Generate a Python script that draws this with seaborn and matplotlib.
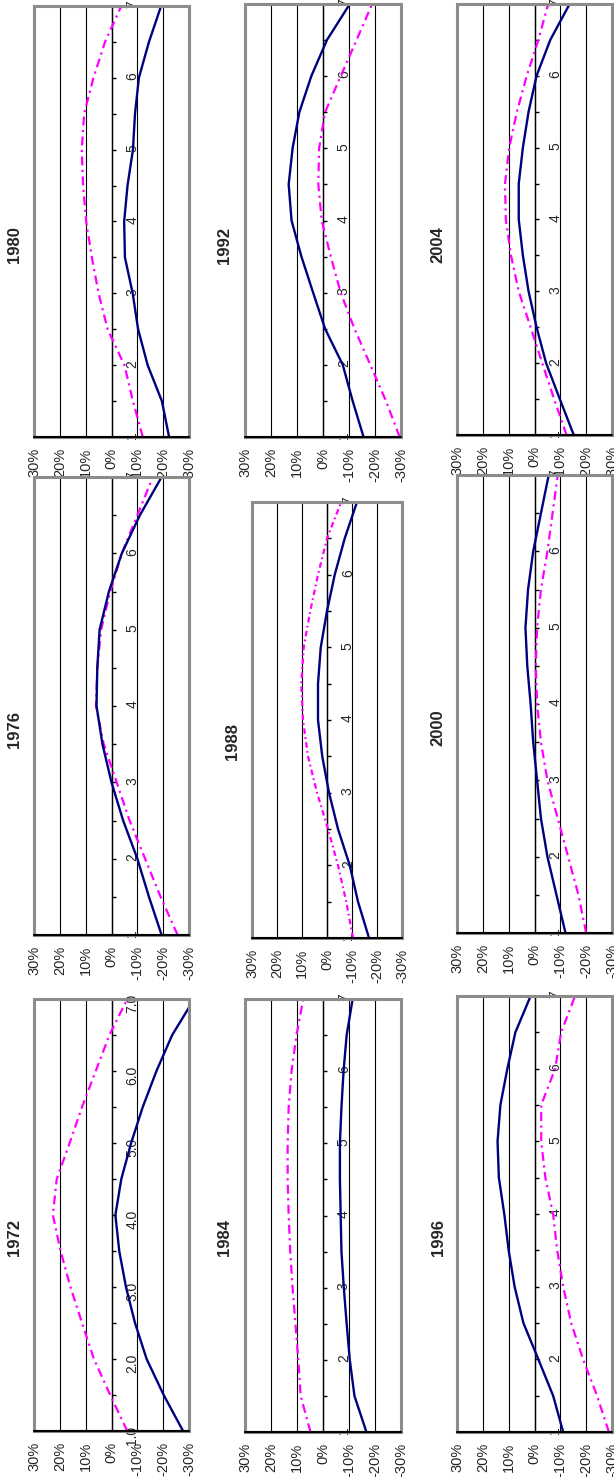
import matplotlib
matplotlib.use("Agg")
import matplotlib.pyplot as plt
import matplotlib.ticker as mticker
from matplotlib.patches import Rectangle
import pandas as pd
import seaborn as sns

# horizon (1..7) and the percent scale
t_points = [1.0, 1.5, 2.0, 2.5, 3.0, 3.5, 4.0, 4.5, 5.0, 5.5, 6.0, 6.5, 7.0]
t_labels = [1, 2, 3, 4, 5, 6, 7]
pct_ticks = [30, 20, 10, 0, -10, -20, -30]

# solid navy series / dash-dot magenta series, per year (percent)
solid_1972 = [-27.7, -20.2, -13.6, -9.1, -5.6, -3.0, -1.5, -3.8, -7.6, -12.1, -17.4, -23.5, -32.0]
dashed_1972 = [-6.1, 0.5, 6.8, 11.4, 15.9, 19.7, 22.7, 21.2, 16.2, 11.4, 6.1, 0.8, -6.1]

solid_1976 = [-19.4, -14.5, -10.0, -4.5, 0.0, 3.5, 5.8, 5.5, 4.6, 1.0, -4.0, -11.0, -19.4]
dashed_1976 = [-25.6, -19.0, -13.0, -7.0, -2.0, 3.0, 6.0, 5.5, 4.0, 0.5, -4.0, -10.0, -16.0]

solid_1980 = [-22.3, -19.5, -14.0, -10.3, -8.2, -5.2, -4.9, -6.2, -8.3, -9.1, -10.6, -14.5, -19.2]
dashed_1980 = [-12.1, -8.3, -5.0, 1.5, 5.0, 7.6, 9.8, 11.0, 11.5, 10.6, 7.0, 2.5, -3.8]

solid_1984 = [-16.7, -12.1, -10.3, -9.1, -8.0, -7.1, -6.8, -6.5, -6.5, -7.1, -7.9, -9.1, -11.4]
dashed_1984 = [4.8, 8.6, 9.5, 10.6, 11.7, 12.6, 13.2, 13.6, 13.6, 13.2, 12.1, 10.2, 7.6]

solid_1988 = [-16.8, -12.4, -9.1, -4.4, -0.8, 1.9, 3.6, 3.6, 2.5, 0.0, -3.1, -7.1, -12.0]
dashed_1988 = [-10.4, -7.7, -4.4, -0.4, 4.0, 7.6, 9.6, 10.3, 9.3, 6.7, 3.6, 0.0, -5.7]

solid_1992 = [-15.6, -11.4, -7.6, -0.8, 3.8, 8.3, 12.1, 13.2, 11.7, 9.1, 4.5, -1.5, -10.3]
dashed_1992 = [-29.5, -24.2, -18.2, -12.1, -6.8, -3.0, 0.5, 1.8, 1.5, -0.8, -6.8, -12.9, -18.9]

solid_1996 = [-11.1, -7.2, -1.5, 4.3, 7.7, 10.0, 11.7, 13.8, 14.3, 13.2, 10.5, 7.4, 1.5]
dashed_1996 = [-28.8, -24.2, -18.8, -14.2, -11.1, -8.8, -7.2, -4.2, -2.6, -2.6, -8.0, -10.3, -15.7]

solid_2000 = [-12.0, -8.5, -5.0, -2.5, -1.0, 0.5, 1.5, 2.8, 3.5, 2.5, 0.5, -2.5, -5.5]
dashed_2000 = [-20.0, -17.0, -13.0, -9.0, -5.0, -2.5, -1.0, -0.5, -1.0, -2.5, -5.0, -7.0, -9.0]

solid_2004 = [-15.2, -9.8, -4.5, -0.8, 2.3, 4.5, 6.1, 6.1, 4.5, 2.3, -0.8, -6.1, -13.6]
dashed_2004 = [-12.4, -7.6, -3.0, 1.5, 6.1, 9.1, 11.1, 11.4, 9.8, 6.8, 3.0, -1.5, -5.3]

W, H = 614, 1477

sns.set_style("white")
plt.rcParams["font.family"] = ["Liberation Sans", "DejaVu Sans"]

fig = plt.figure(figsize=(W / 100, H / 100), dpi=100)
fig.patch.set_facecolor("white")


def draw_panel(year, solid, dashed, box, title_pos, tfmt="%d", dash=(4, 2, 1, 2)):
    left, top, right, bottom = box
    ax = fig.add_axes([left / W, 1 - bottom / H, (right - left) / W, (bottom - top) / H])

    df = pd.DataFrame({"t": t_points, "solid": solid, "dashed": dashed})
    sns.lineplot(data=df, x="dashed", y="t", orient="y", estimator=None, sort=False,
                 color="#ff00ff", linewidth=1.6, ax=ax, zorder=3)
    ax.lines[-1].set_linestyle((0, dash))
    sns.lineplot(data=df, x="solid", y="t", orient="y", estimator=None, sort=False,
                 color="#000080", linewidth=1.7, ax=ax, zorder=4)

    ax.set_xlim(30, -30)
    ax.set_ylim(1, 7)
    ax.set_xlabel("")
    ax.set_ylabel("")
    ax.set_facecolor("white")

    # percent axis along the bottom
    ax.set_xticks(pct_ticks)
    ax.xaxis.set_major_formatter(mticker.FuncFormatter(lambda v, _: f"{v:.0f}%"))
    ax.grid(axis="x", color="black", linewidth=0.8, zorder=1)
    ax.tick_params(axis="x", direction="out", length=3, width=1, color="black",
                   labelsize=10.5, labelrotation=90, pad=4.5)

    # horizon axis sits on the 0% line
    ax.yaxis.tick_right()
    ax.set_yticks(t_labels)
    ax.set_yticks(t_points, minor=True)
    ax.yaxis.set_major_formatter(mticker.FormatStrFormatter(tfmt))
    ax.tick_params(axis="y", which="both", direction="out", length=3, width=1,
                   color="black", labelsize=10, labelrotation=90, pad=7)
    plt.setp(ax.get_yticklabels(), va="center", ha="left")

    for side in ["left", "top", "bottom"]:
        ax.spines[side].set_visible(False)
    ax.spines["right"].set_position(("data", 0))
    ax.spines["right"].set_color("black")
    ax.spines["right"].set_linewidth(1)
    ax.spines["right"].set_zorder(2)

    ax.add_patch(Rectangle((0, 0), 1, 1, transform=ax.transAxes, fill=False,
                           edgecolor="#8c8c8c", linewidth=2.2, clip_on=False, zorder=5))
    ax.axhline(1, color="black", linewidth=1.5, clip_on=False, zorder=6)

    fig.text(title_pos[0] / W, 1 - title_pos[1] / H, str(year), rotation=90,
             ha="center", va="center", fontsize=12, fontweight="bold")
    return ax


draw_panel(1980, solid_1980, dashed_1980, (34, 6, 189, 437), (14, 245))
draw_panel(1992, solid_1992, dashed_1992, (245, 4, 401, 437), (225, 245))
draw_panel(2004, solid_2004, dashed_2004, (457, 4, 612, 435), (438, 245))

draw_panel(1976, solid_1976, dashed_1976, (34, 477, 189, 935), (14, 729))
draw_panel(1988, solid_1988, dashed_1988, (252, 502, 402, 938), (232, 742), dash=(2.5, 1.5, 0.8, 1.5))
draw_panel(2000, solid_2000, dashed_2000, (457, 475, 612, 933), (438, 728))

draw_panel(1972, solid_1972, dashed_1972, (34, 999, 189, 1431), (14, 1237), tfmt="%.1f")
draw_panel(1984, solid_1984, dashed_1984, (245, 999, 401, 1432), (225, 1238))
draw_panel(1996, solid_1996, dashed_1996, (457, 996, 612, 1432), (438, 1237))

fig.savefig("out.png", dpi=100, facecolor="white")
